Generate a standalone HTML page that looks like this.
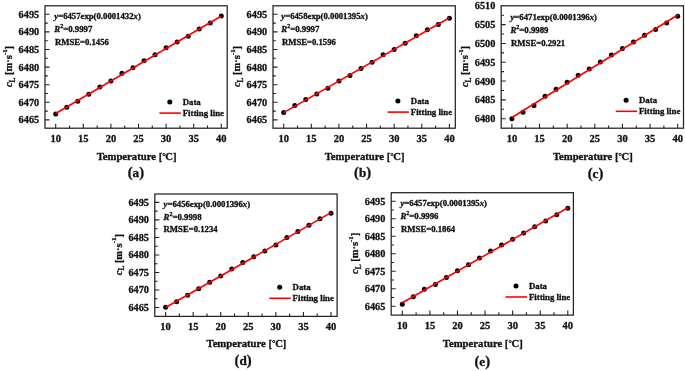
<!DOCTYPE html>
<html><head><meta charset="utf-8"><style>
html,body{margin:0;padding:0;background:#fff;}
svg{display:block;will-change:transform;}
text{font-family:'Liberation Serif',serif;font-weight:bold; fill:#111;stroke:#111;stroke-width:0.3px;}
</style></head><body>
<svg width="685" height="371" viewBox="0 0 685 371">
<rect width="685" height="371" fill="#fff"/>
<g><path d="M55.7 128.2V123.7M83.3 128.2V123.7M110.9 128.2V123.7M138.5 128.2V123.7M166.1 128.2V123.7M193.7 128.2V123.7M221.3 128.2V123.7M69.5 128.2V125.4M97.1 128.2V125.4M124.7 128.2V125.4M152.3 128.2V125.4M179.9 128.2V125.4M207.5 128.2V125.4M45 119.9H49.5M45 102.3H49.5M45 84.7H49.5M45 67.1H49.5M45 49.5H49.5M45 31.9H49.5M45 14.3H49.5M45 111.1H47.8M45 93.5H47.8M45 75.9H47.8M45 58.3H47.8M45 40.7H47.8M45 23.1H47.8" stroke="#222" stroke-width="1.1" fill="none"/>
<rect x="45" y="5.8" width="182.2" height="122.4" stroke="#222" stroke-width="1.25" fill="none"/>
<text x="55.7" y="141.7" text-anchor="middle" font-size="10.5">10</text>
<text x="83.3" y="141.7" text-anchor="middle" font-size="10.5">15</text>
<text x="110.9" y="141.7" text-anchor="middle" font-size="10.5">20</text>
<text x="138.5" y="141.7" text-anchor="middle" font-size="10.5">25</text>
<text x="166.1" y="141.7" text-anchor="middle" font-size="10.5">30</text>
<text x="193.7" y="141.7" text-anchor="middle" font-size="10.5">35</text>
<text x="221.3" y="141.7" text-anchor="middle" font-size="10.5">40</text>
<text x="39.2" y="123.4" text-anchor="end" font-size="10.3">6465</text>
<text x="39.2" y="105.8" text-anchor="end" font-size="10.3">6470</text>
<text x="39.2" y="88.2" text-anchor="end" font-size="10.3">6475</text>
<text x="39.2" y="70.6" text-anchor="end" font-size="10.3">6480</text>
<text x="39.2" y="53" text-anchor="end" font-size="10.3">6485</text>
<text x="39.2" y="35.4" text-anchor="end" font-size="10.3">6490</text>
<text x="39.2" y="17.8" text-anchor="end" font-size="10.3">6495</text>
<circle cx="55.7" cy="113.9" r="2.5"/>
<circle cx="66.74" cy="107.2" r="2.5"/>
<circle cx="77.78" cy="101.3" r="2.5"/>
<circle cx="88.82" cy="94.3" r="2.5"/>
<circle cx="99.86" cy="87" r="2.5"/>
<circle cx="110.9" cy="81" r="2.5"/>
<circle cx="121.94" cy="73.3" r="2.5"/>
<circle cx="132.98" cy="67.8" r="2.5"/>
<circle cx="144.02" cy="60.8" r="2.5"/>
<circle cx="155.06" cy="54.7" r="2.5"/>
<circle cx="166.1" cy="47.7" r="2.5"/>
<circle cx="177.14" cy="42.1" r="2.5"/>
<circle cx="188.18" cy="36.3" r="2.5"/>
<circle cx="199.22" cy="28.9" r="2.5"/>
<circle cx="210.26" cy="23.1" r="2.5"/>
<circle cx="221.3" cy="16.1" r="2.5"/>
<line x1="55.7" y1="113.49" x2="221.3" y2="15.94" stroke="#f00" stroke-width="1.6"/>
<text x="54.3" y="18.9" font-size="8" textLength="86.5" lengthAdjust="spacingAndGlyphs"><tspan font-style="italic">y</tspan>=6457exp(0.0001432<tspan font-style="italic">x</tspan>)</text>
<text x="54.3" y="31.7" font-size="8" textLength="38" lengthAdjust="spacingAndGlyphs"><tspan font-style="italic">R</tspan><tspan font-size="5.5" dy="-3.8">2</tspan><tspan dy="3.8">=0.9997</tspan></text>
<text x="54.9" y="44.6" font-size="8" textLength="54" lengthAdjust="spacingAndGlyphs">RMSE=0.1456</text>
<circle cx="169.8" cy="102" r="2.5"/>
<text x="182.7" y="104.8" font-size="8.8">Data</text>
<line x1="159.4" y1="113.1" x2="180.8" y2="113.1" stroke="#f00" stroke-width="1.6"/>
<text x="182.7" y="115.7" font-size="8.8">Fitting line</text>
<text x="136.6" y="159.6" text-anchor="middle" font-size="10.7">Temperature [<tspan font-size="8.6" dy="-0.6">°</tspan><tspan dy="0.6" dx="-0.4">C]</tspan></text>
<text x="135.85" y="177.1" text-anchor="middle" font-size="13.2"><tspan font-size="14.6">(</tspan>a<tspan font-size="14.6">)</tspan></text>
<text transform="translate(12 66.5) rotate(-90)" text-anchor="middle" font-size="10.5"><tspan font-style="italic">c</tspan><tspan font-size="7.3" dy="2.6">L</tspan><tspan dy="-2.6"> [m·s</tspan><tspan font-size="6.8" dy="-5.5">-1</tspan><tspan dy="5.5">]</tspan></text></g>
<g><path d="M283.7 128.2V123.7M311.32 128.2V123.7M338.93 128.2V123.7M366.55 128.2V123.7M394.17 128.2V123.7M421.78 128.2V123.7M449.4 128.2V123.7M297.51 128.2V125.4M325.12 128.2V125.4M352.74 128.2V125.4M380.36 128.2V125.4M407.97 128.2V125.4M435.59 128.2V125.4M273 119.9H277.5M273 102.3H277.5M273 84.7H277.5M273 67.1H277.5M273 49.5H277.5M273 31.9H277.5M273 14.3H277.5M273 111.1H275.8M273 93.5H275.8M273 75.9H275.8M273 58.3H275.8M273 40.7H275.8M273 23.1H275.8" stroke="#222" stroke-width="1.1" fill="none"/>
<rect x="273" y="5.8" width="182.3" height="122.4" stroke="#222" stroke-width="1.25" fill="none"/>
<text x="283.7" y="141.7" text-anchor="middle" font-size="10.5">10</text>
<text x="311.32" y="141.7" text-anchor="middle" font-size="10.5">15</text>
<text x="338.93" y="141.7" text-anchor="middle" font-size="10.5">20</text>
<text x="366.55" y="141.7" text-anchor="middle" font-size="10.5">25</text>
<text x="394.17" y="141.7" text-anchor="middle" font-size="10.5">30</text>
<text x="421.78" y="141.7" text-anchor="middle" font-size="10.5">35</text>
<text x="449.4" y="141.7" text-anchor="middle" font-size="10.5">40</text>
<text x="267.2" y="123.4" text-anchor="end" font-size="10.3">6465</text>
<text x="267.2" y="105.8" text-anchor="end" font-size="10.3">6470</text>
<text x="267.2" y="88.2" text-anchor="end" font-size="10.3">6475</text>
<text x="267.2" y="70.6" text-anchor="end" font-size="10.3">6480</text>
<text x="267.2" y="53" text-anchor="end" font-size="10.3">6485</text>
<text x="267.2" y="35.4" text-anchor="end" font-size="10.3">6490</text>
<text x="267.2" y="17.8" text-anchor="end" font-size="10.3">6495</text>
<circle cx="283.7" cy="112.6" r="2.5"/>
<circle cx="294.75" cy="105.6" r="2.5"/>
<circle cx="305.79" cy="99.6" r="2.5"/>
<circle cx="316.84" cy="94" r="2.5"/>
<circle cx="327.89" cy="88.3" r="2.5"/>
<circle cx="338.93" cy="81" r="2.5"/>
<circle cx="349.98" cy="75.4" r="2.5"/>
<circle cx="361.03" cy="68.5" r="2.5"/>
<circle cx="372.07" cy="62.2" r="2.5"/>
<circle cx="383.12" cy="54.7" r="2.5"/>
<circle cx="394.17" cy="49.4" r="2.5"/>
<circle cx="405.21" cy="43.3" r="2.5"/>
<circle cx="416.26" cy="35.8" r="2.5"/>
<circle cx="427.31" cy="29.8" r="2.5"/>
<circle cx="438.35" cy="24.4" r="2.5"/>
<circle cx="449.4" cy="18.2" r="2.5"/>
<line x1="283.7" y1="112.65" x2="449.4" y2="17.7" stroke="#f00" stroke-width="1.6"/>
<text x="281.3" y="18.9" font-size="8" textLength="86.5" lengthAdjust="spacingAndGlyphs"><tspan font-style="italic">y</tspan>=6458exp(0.0001395<tspan font-style="italic">x</tspan>)</text>
<text x="281.3" y="31.7" font-size="8" textLength="38" lengthAdjust="spacingAndGlyphs"><tspan font-style="italic">R</tspan><tspan font-size="5.5" dy="-3.8">2</tspan><tspan dy="3.8">=0.9997</tspan></text>
<text x="281.9" y="44.6" font-size="8" textLength="54" lengthAdjust="spacingAndGlyphs">RMSE=0.1596</text>
<circle cx="397.9" cy="101" r="2.5"/>
<text x="410.8" y="103.8" font-size="8.8">Data</text>
<line x1="387.5" y1="112.1" x2="408.9" y2="112.1" stroke="#f00" stroke-width="1.6"/>
<text x="410.8" y="114.7" font-size="8.8">Fitting line</text>
<text x="364.65" y="159.6" text-anchor="middle" font-size="10.7">Temperature [<tspan font-size="8.6" dy="-0.6">°</tspan><tspan dy="0.6" dx="-0.4">C]</tspan></text>
<text x="362.55" y="177.1" text-anchor="middle" font-size="13.2"><tspan font-size="14.6">(</tspan>b<tspan font-size="14.6">)</tspan></text>
<text transform="translate(240 66.5) rotate(-90)" text-anchor="middle" font-size="10.5"><tspan font-style="italic">c</tspan><tspan font-size="7.3" dy="2.6">L</tspan><tspan dy="-2.6"> [m·s</tspan><tspan font-size="6.8" dy="-5.5">-1</tspan><tspan dy="5.5">]</tspan></text></g>
<g><path d="M511.9 128.2V123.7M539.53 128.2V123.7M567.17 128.2V123.7M594.8 128.2V123.7M622.43 128.2V123.7M650.07 128.2V123.7M677.7 128.2V123.7M525.72 128.2V125.4M553.35 128.2V125.4M580.98 128.2V125.4M608.62 128.2V125.4M636.25 128.2V125.4M663.88 128.2V125.4M501.2 118.7H505.7M501.2 99.88H505.7M501.2 81.07H505.7M501.2 62.25H505.7M501.2 43.43H505.7M501.2 24.62H505.7M501.2 109.29H504M501.2 90.47H504M501.2 71.66H504M501.2 52.84H504M501.2 34.02H504M501.2 15.21H504" stroke="#222" stroke-width="1.1" fill="none"/>
<rect x="501.2" y="5.8" width="182.3" height="122.4" stroke="#222" stroke-width="1.25" fill="none"/>
<text x="511.9" y="141.7" text-anchor="middle" font-size="10.5">10</text>
<text x="539.53" y="141.7" text-anchor="middle" font-size="10.5">15</text>
<text x="567.17" y="141.7" text-anchor="middle" font-size="10.5">20</text>
<text x="594.8" y="141.7" text-anchor="middle" font-size="10.5">25</text>
<text x="622.43" y="141.7" text-anchor="middle" font-size="10.5">30</text>
<text x="650.07" y="141.7" text-anchor="middle" font-size="10.5">35</text>
<text x="677.7" y="141.7" text-anchor="middle" font-size="10.5">40</text>
<text x="495.4" y="122.2" text-anchor="end" font-size="10.3">6480</text>
<text x="495.4" y="103.38" text-anchor="end" font-size="10.3">6485</text>
<text x="495.4" y="84.57" text-anchor="end" font-size="10.3">6490</text>
<text x="495.4" y="65.75" text-anchor="end" font-size="10.3">6495</text>
<text x="495.4" y="46.93" text-anchor="end" font-size="10.3">6500</text>
<text x="495.4" y="28.12" text-anchor="end" font-size="10.3">6505</text>
<text x="495.4" y="9.3" text-anchor="end" font-size="10.3">6510</text>
<circle cx="511.9" cy="118.7" r="2.5"/>
<circle cx="522.95" cy="112.2" r="2.5"/>
<circle cx="534.01" cy="105.5" r="2.5"/>
<circle cx="545.06" cy="96.3" r="2.5"/>
<circle cx="556.11" cy="89.2" r="2.5"/>
<circle cx="567.17" cy="82.2" r="2.5"/>
<circle cx="578.22" cy="75.2" r="2.5"/>
<circle cx="589.27" cy="69.1" r="2.5"/>
<circle cx="600.33" cy="61.9" r="2.5"/>
<circle cx="611.38" cy="55" r="2.5"/>
<circle cx="622.43" cy="48.4" r="2.5"/>
<circle cx="633.49" cy="42.1" r="2.5"/>
<circle cx="644.54" cy="35.2" r="2.5"/>
<circle cx="655.59" cy="29.5" r="2.5"/>
<circle cx="666.65" cy="22.9" r="2.5"/>
<circle cx="677.7" cy="16.3" r="2.5"/>
<line x1="511.9" y1="117.51" x2="677.7" y2="14.95" stroke="#f00" stroke-width="1.6"/>
<text x="510.5" y="20.1" font-size="8" textLength="86.5" lengthAdjust="spacingAndGlyphs"><tspan font-style="italic">y</tspan>=6471exp(0.0001396<tspan font-style="italic">x</tspan>)</text>
<text x="510.5" y="32.9" font-size="8" textLength="38" lengthAdjust="spacingAndGlyphs"><tspan font-style="italic">R</tspan><tspan font-size="5.5" dy="-3.8">2</tspan><tspan dy="3.8">=0.9989</tspan></text>
<text x="511.1" y="45.8" font-size="8" textLength="54" lengthAdjust="spacingAndGlyphs">RMSE=0.2921</text>
<circle cx="626.1" cy="100.2" r="2.5"/>
<text x="639" y="103" font-size="8.8">Data</text>
<line x1="615.7" y1="111.3" x2="637.1" y2="111.3" stroke="#f00" stroke-width="1.6"/>
<text x="639" y="113.9" font-size="8.8">Fitting line</text>
<text x="592.85" y="159.6" text-anchor="middle" font-size="10.7">Temperature [<tspan font-size="8.6" dy="-0.6">°</tspan><tspan dy="0.6" dx="-0.4">C]</tspan></text>
<text x="595.55" y="178.1" text-anchor="middle" font-size="13.2"><tspan font-size="14.6">(</tspan>c<tspan font-size="14.6">)</tspan></text>
<text transform="translate(468.2 66.5) rotate(-90)" text-anchor="middle" font-size="10.5"><tspan font-style="italic">c</tspan><tspan font-size="7.3" dy="2.6">L</tspan><tspan dy="-2.6"> [m·s</tspan><tspan font-size="6.8" dy="-5.5">-1</tspan><tspan dy="5.5">]</tspan></text></g>
<g><path d="M165.6 316.4V311.9M193.17 316.4V311.9M220.73 316.4V311.9M248.3 316.4V311.9M275.87 316.4V311.9M303.43 316.4V311.9M331 316.4V311.9M179.38 316.4V313.6M206.95 316.4V313.6M234.52 316.4V313.6M262.08 316.4V313.6M289.65 316.4V313.6M317.22 316.4V313.6M154.8 307.5H159.3M154.8 289.98H159.3M154.8 272.47H159.3M154.8 254.95H159.3M154.8 237.43H159.3M154.8 219.92H159.3M154.8 202.4H159.3M154.8 298.74H157.6M154.8 281.23H157.6M154.8 263.71H157.6M154.8 246.19H157.6M154.8 228.68H157.6M154.8 211.16H157.6" stroke="#222" stroke-width="1.1" fill="none"/>
<rect x="154.8" y="194" width="182.3" height="122.4" stroke="#222" stroke-width="1.25" fill="none"/>
<text x="165.6" y="329.9" text-anchor="middle" font-size="10.5">10</text>
<text x="193.17" y="329.9" text-anchor="middle" font-size="10.5">15</text>
<text x="220.73" y="329.9" text-anchor="middle" font-size="10.5">20</text>
<text x="248.3" y="329.9" text-anchor="middle" font-size="10.5">25</text>
<text x="275.87" y="329.9" text-anchor="middle" font-size="10.5">30</text>
<text x="303.43" y="329.9" text-anchor="middle" font-size="10.5">35</text>
<text x="331" y="329.9" text-anchor="middle" font-size="10.5">40</text>
<text x="149" y="311" text-anchor="end" font-size="10.3">6465</text>
<text x="149" y="293.48" text-anchor="end" font-size="10.3">6470</text>
<text x="149" y="275.97" text-anchor="end" font-size="10.3">6475</text>
<text x="149" y="258.45" text-anchor="end" font-size="10.3">6480</text>
<text x="149" y="240.93" text-anchor="end" font-size="10.3">6485</text>
<text x="149" y="223.42" text-anchor="end" font-size="10.3">6490</text>
<text x="149" y="205.9" text-anchor="end" font-size="10.3">6495</text>
<circle cx="165.6" cy="307.2" r="2.5"/>
<circle cx="176.63" cy="301.8" r="2.5"/>
<circle cx="187.65" cy="295.3" r="2.5"/>
<circle cx="198.68" cy="288.7" r="2.5"/>
<circle cx="209.71" cy="282.2" r="2.5"/>
<circle cx="220.73" cy="276" r="2.5"/>
<circle cx="231.76" cy="269" r="2.5"/>
<circle cx="242.79" cy="262.6" r="2.5"/>
<circle cx="253.81" cy="256.8" r="2.5"/>
<circle cx="264.84" cy="250.9" r="2.5"/>
<circle cx="275.87" cy="245.1" r="2.5"/>
<circle cx="286.89" cy="237.6" r="2.5"/>
<circle cx="297.92" cy="231.4" r="2.5"/>
<circle cx="308.95" cy="225.3" r="2.5"/>
<circle cx="319.97" cy="218.8" r="2.5"/>
<circle cx="331" cy="213.2" r="2.5"/>
<line x1="165.6" y1="307.56" x2="331" y2="212.68" stroke="#f00" stroke-width="1.6"/>
<text x="163.6" y="207.1" font-size="8" textLength="86.5" lengthAdjust="spacingAndGlyphs"><tspan font-style="italic">y</tspan>=6456exp(0.0001396<tspan font-style="italic">x</tspan>)</text>
<text x="163.6" y="219.5" font-size="8" textLength="38" lengthAdjust="spacingAndGlyphs"><tspan font-style="italic">R</tspan><tspan font-size="5.5" dy="-3.8">2</tspan><tspan dy="3.8">=0.9998</tspan></text>
<text x="163.6" y="232.4" font-size="8" textLength="54" lengthAdjust="spacingAndGlyphs">RMSE=0.1234</text>
<circle cx="279.7" cy="287.2" r="2.5"/>
<text x="292.6" y="290" font-size="8.8">Data</text>
<line x1="269.3" y1="298.3" x2="290.7" y2="298.3" stroke="#f00" stroke-width="1.6"/>
<text x="292.6" y="300.9" font-size="8.8">Fitting line</text>
<text x="246.45" y="346.8" text-anchor="middle" font-size="10.7">Temperature [<tspan font-size="8.6" dy="-0.6">°</tspan><tspan dy="0.6" dx="-0.4">C]</tspan></text>
<text x="243.05" y="365.3" text-anchor="middle" font-size="13.2"><tspan font-size="14.6">(</tspan>d<tspan font-size="14.6">)</tspan></text>
<text transform="translate(121.8 254.7) rotate(-90)" text-anchor="middle" font-size="10.5"><tspan font-style="italic">c</tspan><tspan font-size="7.3" dy="2.6">L</tspan><tspan dy="-2.6"> [m·s</tspan><tspan font-size="6.8" dy="-5.5">-1</tspan><tspan dy="5.5">]</tspan></text></g>
<g><path d="M402.3 315.1V310.6M429.88 315.1V310.6M457.47 315.1V310.6M485.05 315.1V310.6M512.63 315.1V310.6M540.22 315.1V310.6M567.8 315.1V310.6M416.09 315.1V312.3M443.68 315.1V312.3M471.26 315.1V312.3M498.84 315.1V312.3M526.42 315.1V312.3M554.01 315.1V312.3M391.2 306.2H395.7M391.2 288.7H395.7M391.2 271.2H395.7M391.2 253.7H395.7M391.2 236.2H395.7M391.2 218.7H395.7M391.2 201.2H395.7M391.2 297.45H394M391.2 279.95H394M391.2 262.45H394M391.2 244.95H394M391.2 227.45H394M391.2 209.95H394" stroke="#222" stroke-width="1.1" fill="none"/>
<rect x="391.2" y="192.7" width="182.2" height="122.4" stroke="#222" stroke-width="1.25" fill="none"/>
<text x="402.3" y="328.6" text-anchor="middle" font-size="10.5">10</text>
<text x="429.88" y="328.6" text-anchor="middle" font-size="10.5">15</text>
<text x="457.47" y="328.6" text-anchor="middle" font-size="10.5">20</text>
<text x="485.05" y="328.6" text-anchor="middle" font-size="10.5">25</text>
<text x="512.63" y="328.6" text-anchor="middle" font-size="10.5">30</text>
<text x="540.22" y="328.6" text-anchor="middle" font-size="10.5">35</text>
<text x="567.8" y="328.6" text-anchor="middle" font-size="10.5">40</text>
<text x="385.4" y="309.7" text-anchor="end" font-size="10.3">6465</text>
<text x="385.4" y="292.2" text-anchor="end" font-size="10.3">6470</text>
<text x="385.4" y="274.7" text-anchor="end" font-size="10.3">6475</text>
<text x="385.4" y="257.2" text-anchor="end" font-size="10.3">6480</text>
<text x="385.4" y="239.7" text-anchor="end" font-size="10.3">6485</text>
<text x="385.4" y="222.2" text-anchor="end" font-size="10.3">6490</text>
<text x="385.4" y="204.7" text-anchor="end" font-size="10.3">6495</text>
<circle cx="402.3" cy="304.2" r="2.5"/>
<circle cx="413.33" cy="296.7" r="2.5"/>
<circle cx="424.37" cy="289.3" r="2.5"/>
<circle cx="435.4" cy="284.4" r="2.5"/>
<circle cx="446.43" cy="277.4" r="2.5"/>
<circle cx="457.47" cy="270.7" r="2.5"/>
<circle cx="468.5" cy="264.8" r="2.5"/>
<circle cx="479.53" cy="258" r="2.5"/>
<circle cx="490.57" cy="251" r="2.5"/>
<circle cx="501.6" cy="245" r="2.5"/>
<circle cx="512.63" cy="239.3" r="2.5"/>
<circle cx="523.67" cy="233.1" r="2.5"/>
<circle cx="534.7" cy="226.7" r="2.5"/>
<circle cx="545.73" cy="221" r="2.5"/>
<circle cx="556.77" cy="214.8" r="2.5"/>
<circle cx="567.8" cy="208.2" r="2.5"/>
<line x1="402.3" y1="302.81" x2="567.8" y2="207.76" stroke="#f00" stroke-width="1.6"/>
<text x="400.5" y="206" font-size="8" textLength="86.5" lengthAdjust="spacingAndGlyphs"><tspan font-style="italic">y</tspan>=6457exp(0.0001395<tspan font-style="italic">x</tspan>)</text>
<text x="400.5" y="218.8" font-size="8" textLength="38" lengthAdjust="spacingAndGlyphs"><tspan font-style="italic">R</tspan><tspan font-size="5.5" dy="-3.8">2</tspan><tspan dy="3.8">=0.9996</tspan></text>
<text x="401.1" y="231.7" font-size="8" textLength="54" lengthAdjust="spacingAndGlyphs">RMSE=0.1864</text>
<circle cx="516" cy="285.9" r="2.5"/>
<text x="528.9" y="288.7" font-size="8.8">Data</text>
<line x1="505.6" y1="297" x2="527" y2="297" stroke="#f00" stroke-width="1.6"/>
<text x="528.9" y="299.6" font-size="8.8">Fitting line</text>
<text x="482.8" y="346.5" text-anchor="middle" font-size="10.7">Temperature [<tspan font-size="8.6" dy="-0.6">°</tspan><tspan dy="0.6" dx="-0.4">C]</tspan></text>
<text x="482.3" y="366.2" text-anchor="middle" font-size="13.2"><tspan font-size="14.6">(</tspan>e<tspan font-size="14.6">)</tspan></text>
<text transform="translate(358.2 253.4) rotate(-90)" text-anchor="middle" font-size="10.5"><tspan font-style="italic">c</tspan><tspan font-size="7.3" dy="2.6">L</tspan><tspan dy="-2.6"> [m·s</tspan><tspan font-size="6.8" dy="-5.5">-1</tspan><tspan dy="5.5">]</tspan></text></g>
</svg>
</body></html>
